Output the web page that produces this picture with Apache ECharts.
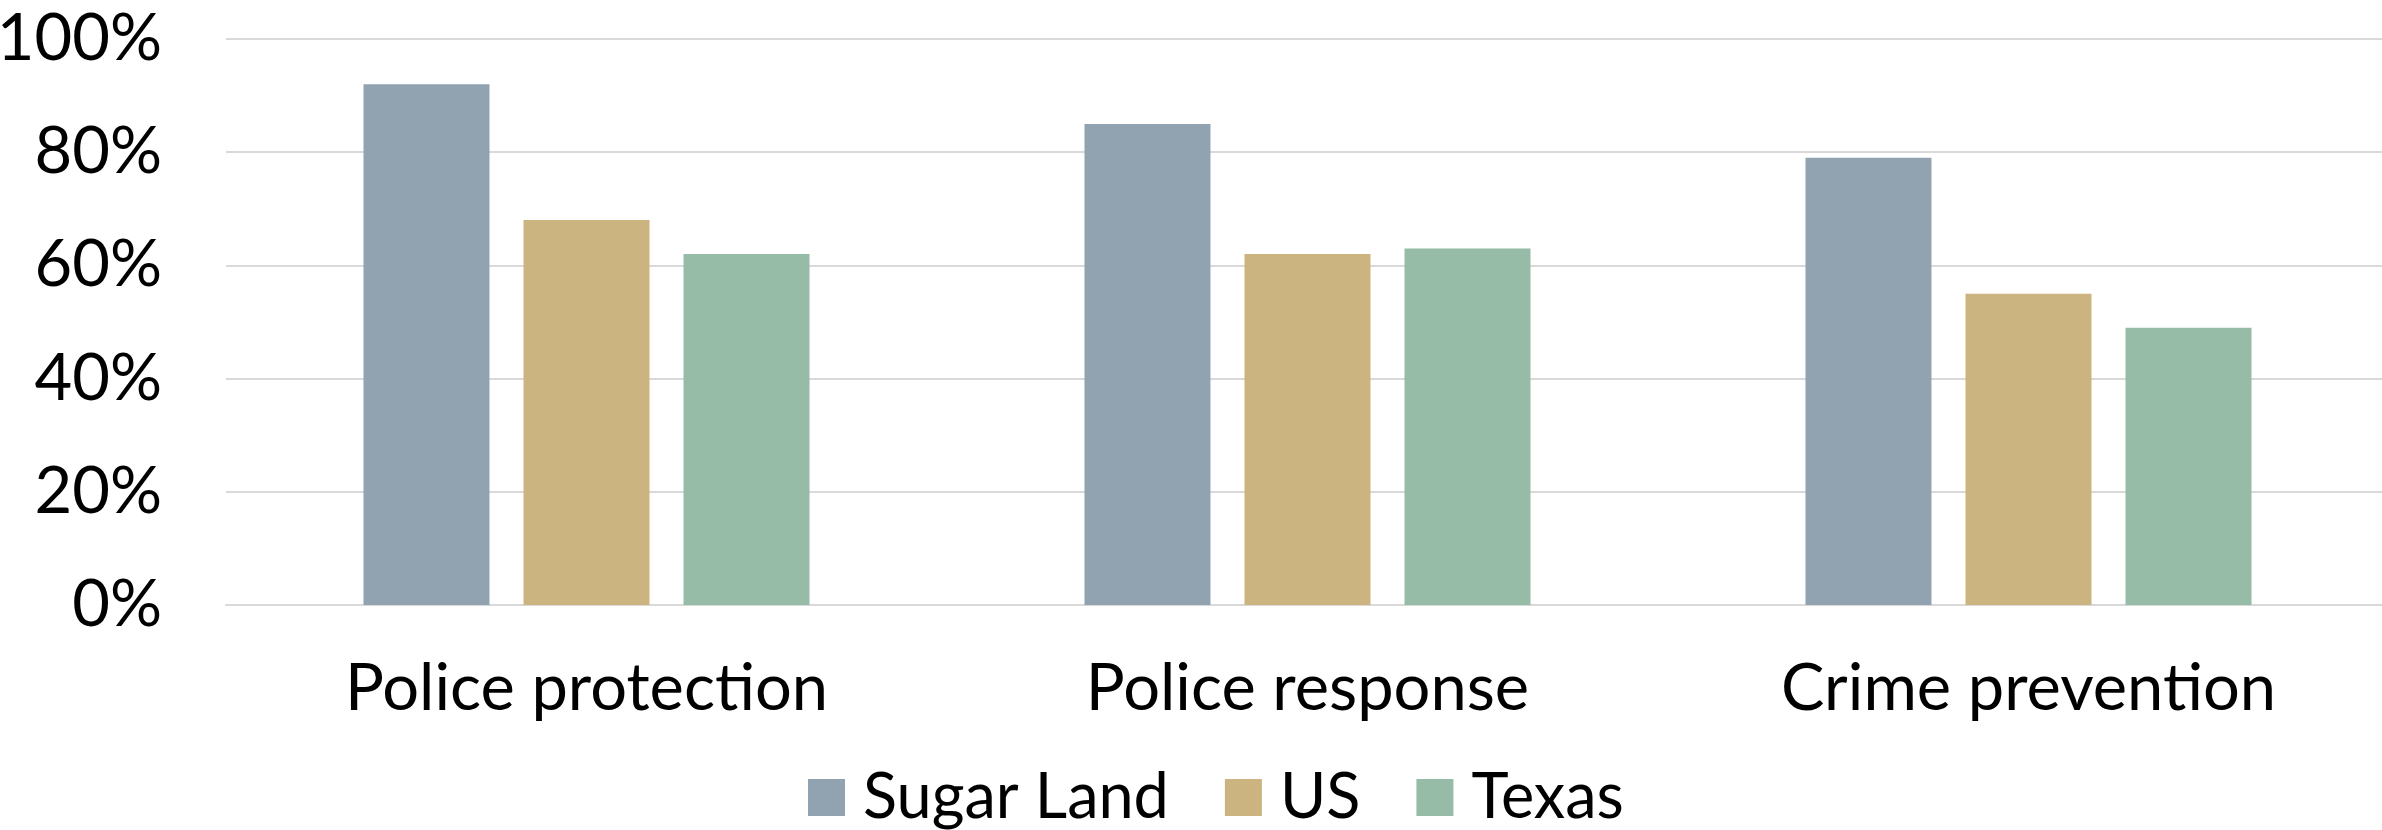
<!DOCTYPE html>
<html>
<head>
<meta charset="utf-8">
<script src="https://cdn.jsdelivr.net/npm/echarts@6/dist/echarts.min.js"></script>
<style>
  html, body { margin: 0; padding: 0; background: #ffffff; }
  #chart { width: 2382px; height: 830px; }
</style>
</head>
<body>
<div id="chart"></div>
<script>
const categories = ['Police protection', 'Police response', 'Crime prevention'];
const seriesNames = ['Sugar Land', 'US', 'Texas'];
const sugarLand = [92, 85, 79];
const us = [68, 62, 55];
const texas = [62, 63, 49];
const yTicks = [0, 20, 40, 60, 80, 100];

const colors = ['#91A3B0', '#CBB480', '#96BBA6'];
const values = [sugarLand, us, texas];
const FONT = 'Lato';

const chart = echarts.init(document.getElementById('chart'), null, { renderer: 'canvas' });
chart.setOption({
  animation: false,
  backgroundColor: '#ffffff',
  grid: { left: 226, right: -7, top: 39, bottom: 225, containLabel: false, outerBoundsMode: 'none' },
  legend: {
    data: seriesNames,
    left: 803,
    top: 761,
    icon: 'rect',
    itemWidth: 37,
    itemHeight: 37,
    itemGap: 56,
    textStyle: { fontFamily: FONT, fontSize: 63, color: '#000', padding: [0, 0, 0, 13] }
  },
  xAxis: {
    type: 'category',
    data: categories,
    axisLine: { show: true, lineStyle: { color: '#D9D9D9', width: 2 } },
    axisTick: { show: false },
    axisLabel: { fontFamily: FONT, fontSize: 65, color: '#000', margin: 52 }
  },
  yAxis: {
    type: 'value',
    min: yTicks[0],
    max: yTicks[yTicks.length - 1],
    interval: yTicks[1] - yTicks[0],
    axisLine: { show: false },
    axisTick: { show: false },
    splitLine: { lineStyle: { color: '#D9D9D9', width: 2 } },
    axisLabel: { fontFamily: FONT, fontSize: 65, color: '#000', margin: 64, formatter: '{value}%' }
  },
  series: seriesNames.map((name, i) => ({
    name: name,
    type: 'bar',
    data: values[i],
    barWidth: 126,
    barGap: '27%',
    itemStyle: { color: colors[i] }
  }))
});
</script>
</body>
</html>
